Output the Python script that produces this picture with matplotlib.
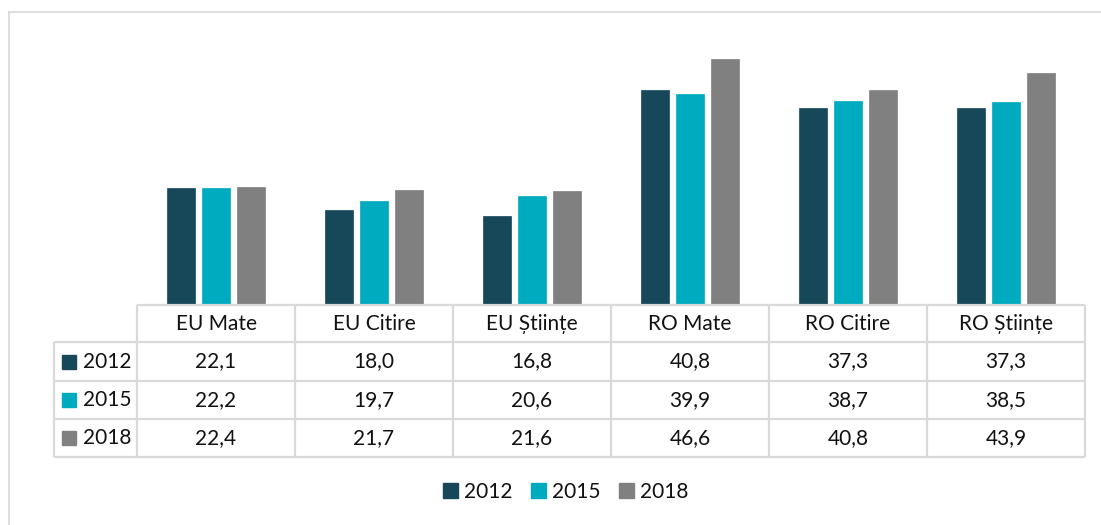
import matplotlib
matplotlib.use("Agg")
import matplotlib.pyplot as plt
from matplotlib.patches import Patch

categories = ["EU Mate", "EU Citire", "EU Științe", "RO Mate", "RO Citire", "RO Științe"]
years = ["2012", "2015", "2018"]
v2012 = [22.1, 18.0, 16.8, 40.8, 37.3, 37.3]
v2015 = [22.2, 19.7, 20.6, 39.9, 38.7, 38.5]
v2018 = [22.4, 21.7, 21.6, 46.6, 40.8, 43.9]
series = [v2012, v2015, v2018]
colors = ["#17485A", "#00ABC0", "#808080"]

plt.rcParams['font.family'] = ['Lato', 'DejaVu Sans']
FS = 15
TXT = "#111111"
GRID = "#d9d9d9"

W, H = 1101, 525
fig = plt.figure(figsize=(W / 100, H / 100), dpi=100)

def fx(px):
    return px / W

def fy(py):
    return 1 - py / H

# outer chart border
fig.add_artist(plt.Line2D([fx(9), 1], [fy(12), fy(12)], color=GRID, lw=1.2))
fig.add_artist(plt.Line2D([fx(9), fx(9)], [fy(12), 0], color=GRID, lw=1.2))

# bar axes
base_y, top_y, left_x, right_x = 305, 41, 137, 1085
ax = fig.add_axes([fx(left_x), fy(base_y), fx(right_x) - fx(left_x), (base_y - top_y) / H])
n = len(categories)
ax.set_xlim(0, n)
ax.set_ylim(0, 50)
col_px = (right_x - left_x) / n
offset = 35 / col_px
width = 28 / col_px
for j, (vals, c) in enumerate(zip(series, colors)):
    xs = [i + 0.5 + (j - 1) * offset for i in range(n)]
    ax.bar(xs, vals, width=width, color=c, edgecolor=c, linewidth=0.5)
ax.axis("off")

# data table
tab_left, tab_bottom = 54, 457
tax = fig.add_axes([fx(tab_left), fy(tab_bottom), fx(right_x) - fx(tab_left), (tab_bottom - base_y) / H])
label_w = (left_x - tab_left) / col_px
tax.set_xlim(-label_w, n)
tot_h = tab_bottom - base_y
tax.set_ylim(tot_h, 0)
tax.axis("off")
rows_y = [0, 37, 76, 114, tot_h]
lw = 1.6
# horizontal lines
tax.plot([0, n], [0, 0], color=GRID, lw=lw, clip_on=False, solid_capstyle="butt")
for yv in rows_y[1:]:
    tax.plot([-label_w, n], [yv, yv], color=GRID, lw=lw, clip_on=False, solid_capstyle="butt")
# vertical lines
for i in range(n + 1):
    tax.plot([i, i], [0, tot_h], color=GRID, lw=lw, clip_on=False, solid_capstyle="butt")
tax.plot([-label_w, -label_w], [rows_y[1], tot_h], color=GRID, lw=lw, clip_on=False, solid_capstyle="butt")

# header
for i, cat in enumerate(categories):
    tax.text(i + 0.5, (rows_y[0] + rows_y[1]) / 2, cat, ha="center", va="center", fontsize=FS, color=TXT)
# rows
for r, (yr, vals, c) in enumerate(zip(years, series, colors)):
    yc = (rows_y[r + 1] + rows_y[r + 2]) / 2
    tax.plot([-label_w + 15 / col_px], [yc], marker="s", ms=10, color=c, clip_on=False)
    tax.text(-label_w + 29 / col_px, yc, yr, ha="left", va="center", fontsize=FS, color=TXT)
    for i, v in enumerate(vals):
        tax.text(i + 0.5, yc, f"{v:.1f}".replace(".", ","), ha="center", va="center", fontsize=FS, color=TXT)

# legend
handles = [Patch(facecolor=c, edgecolor=c, label=y) for y, c in zip(years, colors)]
fig.legend(handles=handles, loc="center", bbox_to_anchor=(fx(566), fy(492)), ncol=3, frameon=False,
           fontsize=FS, handlelength=0.7, handleheight=0.7, handletextpad=0.3, columnspacing=0.9,
           labelcolor=TXT)

fig.savefig("out.png", dpi=100)
